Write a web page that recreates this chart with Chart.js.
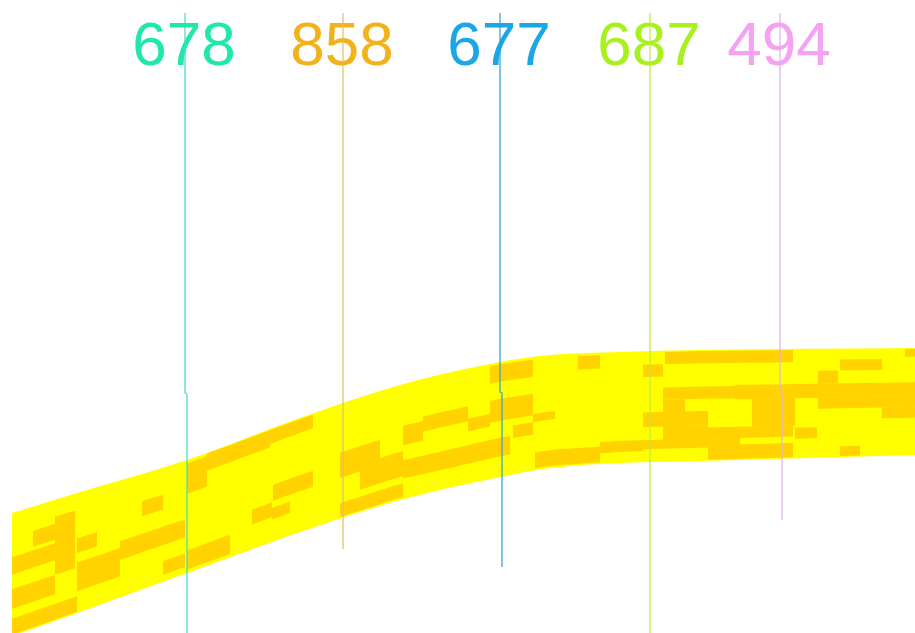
<!DOCTYPE html>
<html>
<head>
<meta charset="utf-8">
<title>Marker band</title>
<script src="https://cdn.jsdelivr.net/npm/chart.js@4/dist/chart.umd.min.js"></script>
<style>
  html, body { margin: 0; padding: 0; background: #ffffff; }
  #wrap { width: 915px; height: 633px; position: relative; }
</style>
</head>
<body>
<div id="wrap"><canvas id="chart"></canvas></div>
<script>
// Vertical markers: label, x at top, x below the bend, top and bottom ends
const markerLabels = ['678', '858', '677', '687', '494'];
const markerX = [185, 343, 500, 650, 780];
const markerXLow = [187, 343, 502, 650, 782];
const markerTop = [13, 13, 13, 13, 13];
const markerBottom = [633, 549, 567, 633, 520];
const markerBend = [393, 393, 392, 393, 393];

// Band outline: upper and lower edge sampled along x
const bandX = [12, 77, 187, 300, 400, 500, 550, 620, 700, 915];
const bandTop = [513, 493, 460, 418, 385, 362, 355, 352, 350, 348];
const bandBottom = [636, 613, 573, 532, 500, 477, 468, 463, 461, 455];

// Darker cells inside the band: x range and relative depth (0 = upper edge, 1 = lower edge)
const cellX0 = [12, 33, 55, 12, 12, 77, 77, 120, 142, 163, 187, 207, 270, 187, 252, 272, 273, 340, 360, 340, 403, 423, 468, 403, 490, 490, 533, 513, 535, 578, 643, 665, 663, 663, 643, 685, 600, 708, 752, 663, 795, 818, 840, 735, 818, 882, 840, 905, 600, 665];
const cellX1 = [55, 75, 75, 55, 77, 97, 120, 185, 163, 185, 207, 270, 313, 230, 272, 290, 313, 380, 403, 403, 423, 468, 490, 510, 533, 533, 555, 533, 600, 600, 663, 793, 793, 685, 708, 740, 740, 793, 795, 793, 817, 838, 882, 915, 915, 915, 860, 915, 643, 708];
const cellV0 = [0.36, 0.20, 0.14, 0.62, 0.86, 0.38, 0.58, 0.52, 0.24, 0.82, 0.03, 0.01, 0.01, 0.80, 0.65, 0.70, 0.50, 0.42, 0.58, 0.86, 0.36, 0.32, 0.43, 0.66, 0.02, 0.32, 0.50, 0.57, 0.84, 0.02, 0.12, 0.01, 0.33, 0.44, 0.55, 0.70, 0.80, 0.86, 0.44, 0.70, 0.72, 0.20, 0.10, 0.32, 0.45, 0.55, 0.90, 0.01, 0.83, 0.68];
const cellV1 = [0.50, 0.33, 0.62, 0.78, 0.99, 0.50, 0.82, 0.68, 0.37, 0.94, 0.30, 0.16, 0.13, 0.97, 0.78, 0.80, 0.64, 0.64, 0.80, 0.98, 0.53, 0.45, 0.54, 0.82, 0.17, 0.51, 0.57, 0.68, 0.98, 0.14, 0.23, 0.12, 0.44, 0.70, 0.68, 0.78, 0.88, 0.99, 0.70, 0.80, 0.82, 0.32, 0.20, 0.45, 0.55, 0.65, 0.99, 0.08, 0.90, 0.85];

const labelColors = ['#1fe8aa', '#f2b21c', '#1ba6e6', '#a8f01e', '#f5a2f2'];
const lineColors = ['#3fdcc2', '#e2c060', '#2a9fdc', '#b8ec44', '#e2aef0'];
const BAND_COLOR = '#ffff00';
const CELL_COLOR = '#ffd200';
const LABEL_BASELINE = 65;

function edgeAt(edge, x) {
  for (let i = 0; i < bandX.length - 1; i++) {
    if (x <= bandX[i + 1]) {
      const t = (x - bandX[i]) / (bandX[i + 1] - bandX[i]);
      return edge[i] + t * (edge[i + 1] - edge[i]);
    }
  }
  return edge[edge.length - 1];
}

function cellPolygon(i) {
  const pts = [];
  const x0 = cellX0[i], x1 = cellX1[i];
  const steps = Math.max(1, Math.ceil((x1 - x0) / 10));
  const depth = (x, v) => {
    const top = edgeAt(bandTop, x), bot = edgeAt(bandBottom, x);
    return top + v * (bot - top);
  };
  for (let s = 0; s <= steps; s++) {
    const x = x0 + (x1 - x0) * s / steps;
    pts.push({ x, y: depth(x, cellV0[i]) });
  }
  for (let s = steps; s >= 0; s--) {
    const x = x0 + (x1 - x0) * s / steps;
    pts.push({ x, y: depth(x, cellV1[i]) });
  }
  return pts;
}

const datasets = [];

// band: upper edge filled down to the lower edge (dataset index 1)
datasets.push({
  label: 'band top',
  data: bandX.map((x, i) => ({ x, y: bandTop[i] })),
  showLine: true, borderWidth: 0, pointRadius: 0,
  cubicInterpolationMode: 'monotone',
  backgroundColor: BAND_COLOR, fill: 1, order: 100
});
datasets.push({
  label: 'band bottom',
  data: bandX.map((x, i) => ({ x, y: bandBottom[i] })),
  showLine: true, borderWidth: 0, pointRadius: 0,
  cubicInterpolationMode: 'monotone',
  fill: false, order: 99
});

cellX0.forEach((_, i) => {
  datasets.push({
    label: 'cell ' + i,
    data: cellPolygon(i),
    showLine: true, borderWidth: 0, pointRadius: 0, tension: 0,
    backgroundColor: CELL_COLOR, fill: 'shape', order: 50
  });
});

markerLabels.forEach((lab, i) => {
  datasets.push({
    label: lab,
    data: [
      { x: markerX[i], y: markerTop[i] },
      { x: markerX[i], y: markerBend[i] },
      { x: markerXLow[i], y: markerBend[i] + 1 },
      { x: markerXLow[i], y: markerBottom[i] }
    ],
    showLine: true, borderWidth: 1.2, pointRadius: 0, tension: 0,
    borderColor: lineColors[i], fill: false, order: 1
  });
});

// marker numbers sit behind the vertical lines
const markerText = {
  id: 'markerText',
  beforeDatasetsDraw(chart) {
    const { ctx, scales: { x, y } } = chart;
    ctx.save();
    ctx.font = '62px "Liberation Sans", Arial, sans-serif';
    ctx.textAlign = 'center';
    ctx.textBaseline = 'alphabetic';
    markerLabels.forEach((t, i) => {
      ctx.fillStyle = labelColors[i];
      ctx.fillText(t, x.getPixelForValue(markerX[i]) - 1, y.getPixelForValue(LABEL_BASELINE));
    });
    ctx.restore();
  }
};

new Chart(document.getElementById('chart'), {
  type: 'scatter',
  data: { datasets },
  plugins: [markerText],
  options: {
    responsive: true,
    maintainAspectRatio: false,
    animation: false,
    layout: { padding: 0 },
    scales: {
      x: { type: 'linear', min: 0, max: 915, display: false },
      y: { type: 'linear', min: 0, max: 633, reverse: true, display: false }
    },
    plugins: {
      legend: { display: false },
      tooltip: { enabled: false }
    },
    elements: { point: { radius: 0 } }
  }
});
</script>
</body>
</html>
